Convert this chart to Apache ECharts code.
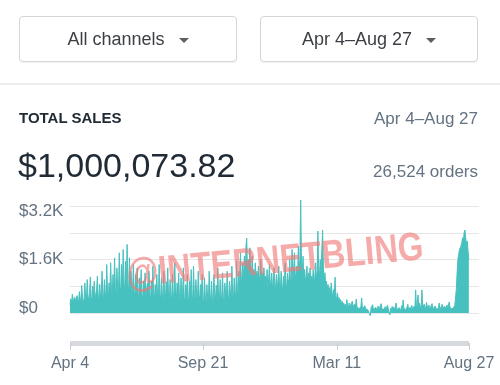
<!DOCTYPE html>
<html>
<head>
<meta charset="utf-8">
<script src="https://cdn.jsdelivr.net/npm/echarts@6/dist/echarts.min.js"></script>
<style>
  html, body { margin: 0; padding: 0; background: #ffffff; }
  body { width: 500px; height: 385px; position: relative; overflow: hidden; font-family: "Liberation Sans", Arial, Helvetica, sans-serif; }
  #chart { position: absolute; left: 0; top: 0; width: 500px; height: 385px; }
  .btn { position: absolute; top: 16px; width: 216px; height: 44px; border: 1px solid #d3d6da; border-radius: 4px; background: #fff;
         box-shadow: 0 1px 1px rgba(0,0,0,0.06); display: flex; align-items: center; justify-content: center; font-size: 18px; color: #3b3f43; z-index: 2; }
  .caret { width: 0; height: 0; border-left: 5.5px solid transparent; border-right: 5.5px solid transparent; border-top: 5.5px solid #5a5f64; margin-left: 14px; margin-top: 2px; }
  .divider { position: absolute; left: 0; top: 83px; width: 500px; height: 2px; background: #ededed; z-index: 2; }
  .t { position: absolute; white-space: nowrap; z-index: 2; }
</style>
</head>
<body>
<div id="chart"></div>
<div class="btn" style="left:19px;">All channels<span class="caret"></span></div>
<div class="btn" style="left:260px;">Apr 4–Aug 27<span class="caret"></span></div>
<div class="divider"></div>
<div class="t" style="left:19px; top:108px; line-height:20px; font-size:15px; font-weight:bold; color:#212b36;">TOTAL SALES</div>
<div class="t" style="right:22px; top:109px; line-height:20px; font-size:17px; color:#637381;">Apr 4–Aug 27</div>
<div class="t" style="left:18px; top:145px; line-height:40px; font-size:34px; color:#212b36;">$1,000,073.82</div>
<div class="t" style="right:22px; top:162px; line-height:20px; font-size:17px; color:#637381;">26,524 orders</div>
<script>
// ---- data ----
const startYear = 2017, startMonth = 3, startDay = 4; // Apr 4, 2017
const dailySales = [
  250, 420, 300, 560, 330, 280, 480, 350, 300, 520,
  380, 320, 640, 420, 360, 820, 480, 340, 400, 900,
  450, 380, 1000, 500, 400, 580, 1080, 460, 380, 800,
  520, 950, 440, 400, 680, 1100, 480, 420, 860, 500,
  580, 1250, 520, 460, 1000, 600, 520, 1450, 640, 480,
  900, 580, 1500, 700, 520, 1150, 640, 1650, 760, 580,
  1350, 680, 620, 1800, 780, 640, 1450, 700, 1900, 900,
  660, 1550, 740, 2050, 850, 640, 1650, 780, 1250, 700,
  580, 1450, 640, 530, 1150, 680, 1350, 560, 500, 1050,
  600, 1300, 520, 460, 950, 580, 1200, 480, 440, 900,
  560, 1250, 500, 420, 950, 530, 1400, 580, 440, 850,
  480, 1150, 440, 380, 1450, 520, 460, 1050, 580, 400,
  1250, 500, 440, 930, 560, 1350, 480, 420, 1000, 530,
  380, 1150, 460, 580, 1500, 500, 400, 900, 560, 1200,
  440, 360, 1050, 500, 580, 1350, 440, 380, 850, 520,
  1150, 460, 400, 950, 580, 1300, 480, 420, 1400, 560,
  440, 1000, 500, 380, 1250, 520, 440, 850, 580, 1150,
  400, 340, 1050, 480, 320, 850, 440, 360, 1250, 500,
  380, 950, 440, 330, 1150, 580, 400, 830, 480, 1350,
  420, 350, 1000, 520, 380, 1200, 460, 360, 900, 580,
  440, 1250, 500, 400, 950, 640, 480, 1400, 560, 440,
  1050, 600, 520, 1550, 680, 580, 1250, 640, 1800, 780,
  820, 1500, 960, 1700, 880, 2000, 2240, 1100, 1600, 980,
  1950, 1200, 1050, 1700, 1000, 1300, 1100, 1500, 950, 1250,
  1050, 1400, 900, 1150, 1600, 980, 1200, 1050, 1350, 900,
  1100, 850, 1300, 760, 1000, 1450, 800, 950, 1200, 720,
  900, 1350, 700, 820, 1150, 640, 1000, 1400, 760, 680,
  1250, 800, 720, 1100, 650, 1500, 850, 780, 1200, 900,
  1000, 1600, 850, 1100, 1900, 960, 1300, 1800, 1000, 1200,
  1400, 1100, 2000, 1250, 1600, 3380, 1500, 1200, 1700, 1050,
  1300, 950, 1100, 1400, 900, 1200, 1000, 1350, 850, 1100,
  950, 1300, 880, 1050, 1500, 1000, 1250, 2450, 1300, 1100,
  1600, 1200, 1900, 2480, 1400, 1000, 1200, 800, 950, 700,
  850, 600, 760, 550, 900, 620, 480, 700, 560, 1070,
  500, 420, 600, 380, 460, 330, 400, 280, 350, 240,
  300, 200, 260, 180, 400, 220, 160, 300, 190, 240,
  170, 350, 200, 150, 260, 180, 420, 190, 140, 230,
  120, 90, 200, 450, 110, 160, 80, 220, 130, 100,
  180, 90, 140, 70, -80, 160, 110, 250, 90, 130,
  80, 170, 120, 60, 210, 100, 140, 90, 280, 110,
  150, 70, 120, 190, 90, 60, 240, 130, 100, -60,
  140, 80, 200, 110, 170, 90, 130, 300, 100, 150,
  90, 160, 120, 70, 220, 110, 390, 130, 80, 180,
  100, 140, 260, 90, 120, 170, 80, 230, 110, 150,
  200, 120, 690, 160, 250, 540, 140, 300, 180, 120,
  690, 200, 150, 260, 110, 180, 320, 140, 120, 240,
  100, 170, 130, 280, 90, 150, 110, 210, 130, 90,
  180, 120, 300, 100, 150, 90, 260, 140, 110, 200,
  130, 90, 240, 160, 110, 330, 150, 100, 190, 120,
  160, 110, 220, 200, 700, 1200, 1600, 1750, 1900, 1850,
  2000, 2100, 2250, 2150, 2400, 2480, 2250, 2050, 2150, 1850,
  1600
];
const xTickDates = ['2017-04-04', '2017-09-21', '2018-03-11', '2018-08-27'];
const yTickValues = [0, 800, 1600, 2400, 3200];
const yTickLabels = { 0: '$0', 1600: '$1.6K', 3200: '$3.2K' };
const watermarkText = '@INTERNETBLING';

// ---- build categories ----
const monthNames = ['Jan','Feb','Mar','Apr','May','Jun','Jul','Aug','Sep','Oct','Nov','Dec'];
const pad2 = (n) => (n < 10 ? '0' : '') + n;
const dates = dailySales.map((_, i) => {
  const d = new Date(startYear, startMonth, startDay + i);
  return d.getFullYear() + '-' + pad2(d.getMonth() + 1) + '-' + pad2(d.getDate());
});
const fmtDate = (s) => {
  const p = s.split('-');
  return monthNames[parseInt(p[1], 10) - 1] + ' ' + parseInt(p[2], 10);
};
const padded = dates.concat(Array.from({ length: 13 }, (_, i) => 'pad' + i));
const labelIdx = new Set(xTickDates.map((d) => dates.indexOf(d)));

const teal = '#47c1bf';
const gray = '#637381';

const chart = echarts.init(document.getElementById('chart'), null, { renderer: 'canvas' });
chart.setOption({
  animation: false,
  backgroundColor: '#ffffff',
  grid: [
    { left: 70, right: 21, top: 206, bottom: 72 },
    { left: 70, right: 31, top: 300, bottom: 42 }
  ],
  xAxis: [
    { type: 'category', gridIndex: 0, data: padded, boundaryGap: false, show: false },
    {
      type: 'category', gridIndex: 1, data: dates, boundaryGap: false,
      axisLine: { lineStyle: { color: '#d6d9dd', width: 5, cap: 'butt' } },
      axisTick: { show: true, interval: (i) => labelIdx.has(i), length: 7, lineStyle: { color: '#c9ccd0', width: 1 } },
      axisLabel: { interval: (i) => labelIdx.has(i), formatter: fmtDate, color: gray, fontSize: 16, margin: 13, fontFamily: 'Liberation Sans' },
      splitLine: { show: false }
    }
  ],
  yAxis: [
    {
      type: 'value', gridIndex: 0, min: yTickValues[0], max: yTickValues[yTickValues.length - 1], interval: 800,
      axisLine: { show: false }, axisTick: { show: false },
      splitLine: { lineStyle: { color: '#e6e6e6', width: 1 } },
      axisLabel: {
        align: 'left', margin: 51,
        formatter: (v) => {
          const s = yTickLabels[v] || '';
          if (!s) return '';
          if (v === 3200) return '{t|' + s + '}';
          if (v === 0) return '{b|' + s + '}';
          return '{m|' + s + '}';
        },
        rich: {
          t: { fontSize: 17, color: gray, fontFamily: 'Liberation Sans', padding: [10, 0, 0, 0] },
          m: { fontSize: 17, color: gray, fontFamily: 'Liberation Sans' },
          b: { fontSize: 17, color: gray, fontFamily: 'Liberation Sans', padding: [0, 0, 10, 0] }
        }
      }
    },
    { type: 'value', gridIndex: 1, show: false }
  ],
  series: [{
    type: 'line', xAxisIndex: 0, yAxisIndex: 0, data: dailySales,
    showSymbol: false, symbol: 'none', clip: false, silent: true,
    lineStyle: { color: teal, width: 1 },
    areaStyle: { color: teal, opacity: 1 }
  }],
  graphic: [{
    type: 'text', x: 275, y: 262, rotation: 0.093, scaleX: 0.82, z: 100, silent: true,
    style: {
      text: watermarkText, font: 'bold 40px "Liberation Sans"',
      fill: 'rgba(240,120,120,0.62)', align: 'center', verticalAlign: 'middle',
      textAlign: 'center', textVerticalAlign: 'middle'
    }
  }]
});
</script>
</body>
</html>
